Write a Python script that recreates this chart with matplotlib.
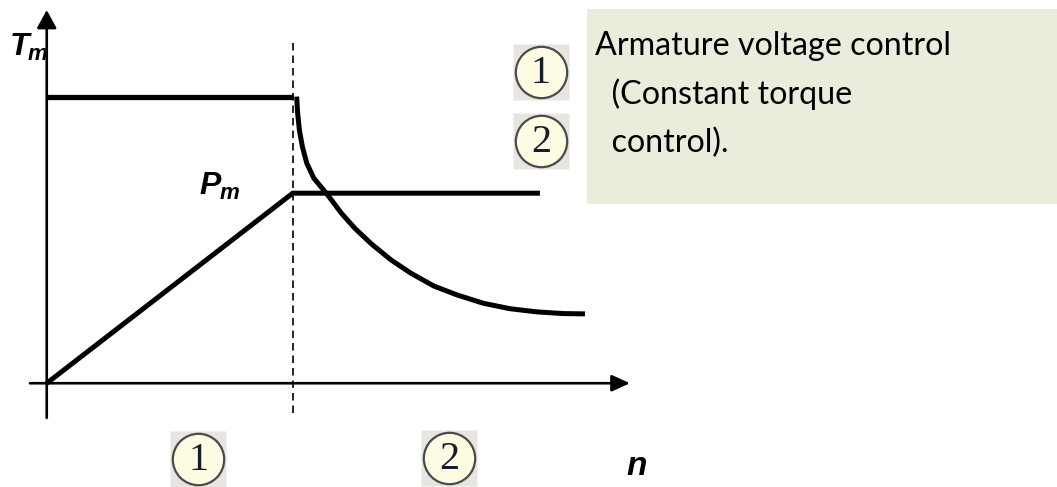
import matplotlib
matplotlib.use("Agg")
import matplotlib.pyplot as plt
from matplotlib.patches import Rectangle

# speed in units of base speed, torque / power in units of rated torque
base_speed = 1.0
speed_const = [0.0, 1.0]
torque_const = [1.0, 1.0]
speed_power = [0.0, 1.0, 2.005]
power = [0.0, 0.663, 0.663]
speed_weak = [1.016, 1.020, 1.027, 1.039, 1.057, 1.086, 1.142, 1.198, 1.252, 1.320,
              1.400, 1.480, 1.574, 1.668, 1.775, 1.883, 1.992, 2.100, 2.188]
torque_weak = [1.000, 0.942, 0.884, 0.826, 0.768, 0.715, 0.657, 0.593, 0.541, 0.486,
               0.430, 0.384, 0.339, 0.308, 0.279, 0.260, 0.249, 0.243, 0.242]

box_lines = ["Armature voltage control", "  (Constant torque", "  control)."]

W, H = 1057, 487
fig = plt.figure(figsize=(W / 100, H / 100), dpi=100)
ax = fig.add_axes([0, 0, 1, 1])
ax.set_xlim(-0.190, 4.107)
ax.set_ylim(-0.362, 1.337)
ax.axis("off")


def px(x, y):
    return x / W, 1 - y / H


# axes with arrows
ax.annotate("", xy=(2.371, 0), xytext=(-0.068, 0),
            arrowprops=dict(arrowstyle="-|>,head_length=0.55,head_width=0.25",
                            lw=1.9, color="black", mutation_scale=20, shrinkA=0, shrinkB=0))
ax.annotate("", xy=(0, 1.302), xytext=(0, -0.121),
            arrowprops=dict(arrowstyle="-|>,head_length=0.55,head_width=0.3",
                            lw=1.9, color="black", mutation_scale=20, shrinkA=0, shrinkB=0))

# base speed marker
ax.plot([base_speed, base_speed], [-0.104, 1.198], color="black", lw=1.2,
        dashes=(4.5, 3))

# curves
ax.plot(speed_const, torque_const, color="black", lw=3.8, solid_capstyle="butt")
ax.plot(speed_power, power, color="black", lw=3.6, solid_capstyle="butt",
        solid_joinstyle="miter")
ax.plot(speed_weak, torque_weak, color="black", lw=3.6, solid_capstyle="butt",
        solid_joinstyle="round")

# labels
lab = dict(family="Liberation Sans", weight="bold", style="italic", color="black")
fig.text(*px(10, 55), "T", fontsize=23, va="baseline", **lab)
fig.text(*px(28, 60), "m", fontsize=16, va="baseline", **lab)
fig.text(*px(199, 194), "P", fontsize=23, va="baseline", **lab)
fig.text(*px(220, 199), "m", fontsize=16, va="baseline", **lab)
fig.text(*px(626, 475), "n", fontsize=24, va="baseline", **lab)

# green note box
fig.patches.append(Rectangle(px(587, 204), 470 / W, 195 / H, transform=fig.transFigure,
                             facecolor="#eaeddc", edgecolor="none", zorder=0))
for i, line in enumerate(box_lines):
    fig.text(*px(595, 55 + i * 48.5), line, fontsize=23.2, family="Lato",
             va="baseline", color="black")

# numbered region markers
markers = [("1", 198, 459), ("2", 449, 458), ("1", 541, 72), ("2", 541, 141)]
for label, cx, cy in markers:
    x, y = px(cx, cy)
    ax.plot(x, y, marker="s", markersize=41, color="#e8e4e0", mec="none",
            transform=fig.transFigure, clip_on=False)
    ax.plot(x, y, marker="o", markersize=37, mfc="#fdfce3", mec="#4a4a4a",
            mew=1.6, transform=fig.transFigure, clip_on=False)
    fig.text(x, y - 0.003, label, fontsize=29, family="Liberation Serif",
             ha="center", va="center", color="#151c2c")

fig.savefig("out.png", dpi=100)
